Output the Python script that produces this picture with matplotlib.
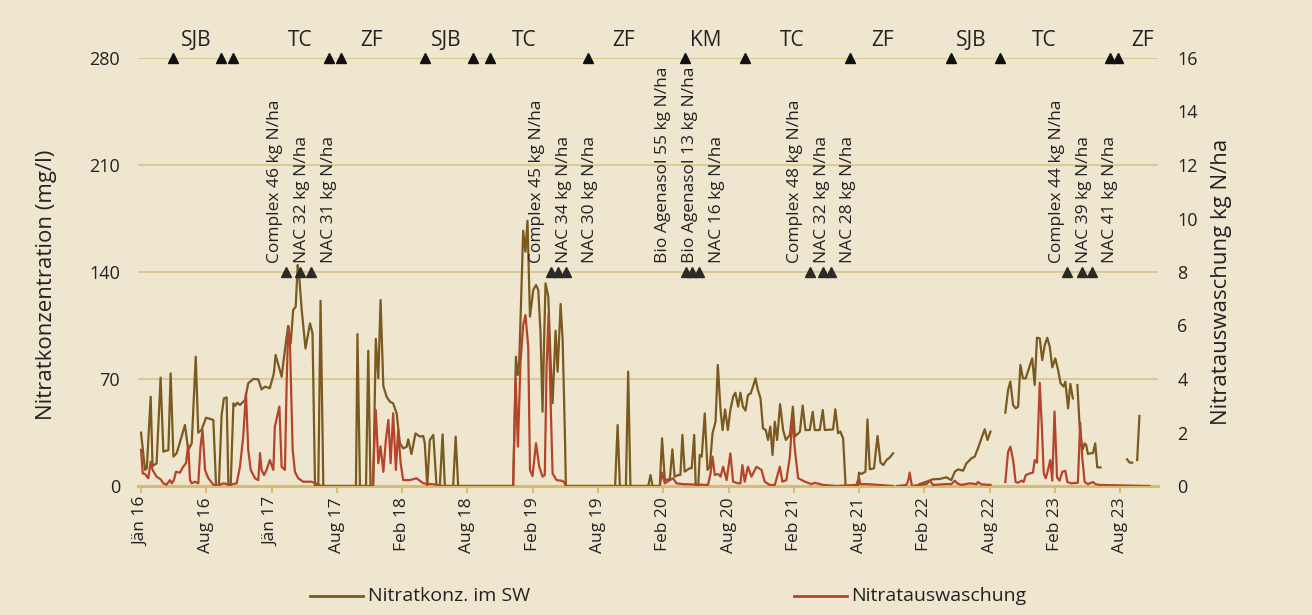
import numpy as np
import matplotlib
matplotlib.use("Agg")
import matplotlib.pyplot as plt
from matplotlib.lines import Line2D

plt.rcParams['font.family'] = ['Open Sans', 'DejaVu Sans']

nan = np.nan

# x axis: weeks since start (Jan 2016); tick every 26 weeks
tick_labels = ['Jän 16', 'Aug 16', 'Jän 17', 'Aug 17', 'Feb 18', 'Aug 18', 'Feb 19', 'Aug 19',
               'Feb 20', 'Aug 20', 'Feb 21', 'Aug 21', 'Feb 22', 'Aug 22', 'Feb 23', 'Aug 23']

# Nitratkonz. im SW (mg/l)
conc_weeks = [0.0, 1.6, 2.3, 3.85, 4.6, 6.2, 7.8, 8.9, 10.9, 11.8, 12.9, 14.2, 17.5, 18.8, 20.2, 21.8,
              22.8, 24.1, 25.9, 28.8, 29.9, 31.0, 32.1, 33.0, 34.1, 34.8, 35.7, 36.8, 37.5, 38.3, 39.4,
              41.4, 42.7, 44.7, 46.7, 48.0, 49.4, 51.3, 52.9, 53.6, 56.0, 57.3, 58.6, 59.6, 60.6, 61.6,
              62.4, 63.0, 64.0, 65.5, 67.3, 68.3, 69.3, 70.6, 71.5, 72.6, 85.6, 86.2, 87.2, 89.6, 90.5,
              91.4, 92.5, 93.5, 94.5, 95.4, 96.5, 97.8, 99.1, 100.4, 101.8, 103.1, 104.4, 105.8, 106.4,
              107.7, 109.3, 111.1, 112.4, 113.0, 114.0, 115.0, 116.4, 117.7, 119.0, 120.1, 121.0, 124.3,
              125.3, 126.3, 148.2, 149.3, 150.0, 150.6, 152.2, 153.1, 153.9, 154.9, 156.2, 157.3, 158.2,
              159.1, 159.9, 160.6, 161.1, 162.2, 163.1, 163.9, 165.1, 165.9, 167.1, 167.9, 168.8, 169.2,
              188.8, 189.8, 190.7, 193.1, 194.0, 194.9, 202.0, 202.9, 203.7, 206.6, 207.5, 208.6, 210.6,
              211.6, 212.5, 213.9, 214.8, 215.6, 216.5, 218.5, 219.3, 220.3, 220.9, 221.9, 222.5, 223.3,
              224.5, 225.6, 226.5, 227.6, 228.8, 229.7, 230.8, 231.6, 232.6, 233.7, 234.7, 235.8, 236.7,
              237.8, 238.7, 239.7, 240.7, 241.7, 242.8, 243.7, 244.7, 245.6, 246.7, 247.7, 248.8, 249.7,
              250.6, 251.5, 252.4, 253.3, 254.5, 255.7, 256.8, 258.4, 259.6, 260.4, 262.4, 263.5, 264.6,
              266.3, 267.5, 268.3, 270.3, 271.5, 272.3, 275.6, 276.5, 277.6, 278.5, 279.6, 280.6, 285.6,
              285.9, 286.9, 288.5, 289.3, 290.2, 291.9, 293.3, 294.5, 295.6, 296.9, 298.2, 299.5, 300.0,
              308.8, 310.1, 312.8, 315.4, 318.1, 320.7, 322.7, 324.1, 325.4, 327.4, 328.7, 330.7, 332.0,
              333.3, 334.7, 336.0, 337.1, 338.3, 340.0,
              344.2, 345.3, 346.2, 347.3, 348.3, 349.3, 350.2, 351.2, 352.3, 353.6, 354.9, 355.9, 356.8,
              357.9, 358.9, 359.9, 360.9, 361.9, 362.9, 364.1, 365.2, 366.2, 367.4, 368.1, 369.2, 370.1,
              371.1, 372.0, 372.9, 373.8, 374.9, 375.8, 376.4, 377.1, 378.0, 379.1, 380.0, 380.8, 382.1,
              385.0, 392.7, 393.7, 394.7, 395.5, 396.7, 397.6]
conc_vals = [34.9, 10.5, 11.6, 58.4, 13.1, 14.8, 70.9, 22.5, 23.5, 73.7, 19.2, 21.4, 39.9, 23.5, 27.9, 84.6,
             34.9, 36.6, 44.7, 43.2, 0, 0, 46.4, 57.3, 58.0, 0, 0, 54.1, 52.4, 54.5, 53.0,
             56.2, 67.2, 70.0, 69.8, 63.2, 65.0, 64.0, 73.7, 85.7, 71.5, 89.0, 104.7, 93.3, 115.1, 117.3,
             144.6, 137.0, 115.1, 90.0, 106.4, 99.9, 0, 0, 121.2, 0, 0, 99.4, 0, 0, 88.5,
             0, 0, 96.2, 70.4, 121.7, 65.4, 58.4, 55.2, 54.1, 47.5, 27.9, 24.6, 25.7, 30.5,
             20.9, 34.4, 32.3, 32.7, 27.9, 0, 30.1, 33.4, 0, 0, 33.8, 0, 0,
             32.3, 0, 0, 84.6, 72.6, 80.2, 167.0, 153.3, 173.6, 110.8, 128.2, 131.5, 128.2,
             99.9, 48.6, 99.9, 132.6, 123.9, 82.4, 54.1, 101.6, 74.8, 119.1, 95.5, 34.5, 0,
             0, 39.9, 0, 0, 74.8, 0, 0, 7.2, 0, 0, 31.2, 3.9, 4.4,
             24.0, 6.1, 7.2, 7.2, 33.4, 9.4, 11.6, 11.6, 33.4, 0, 0, 20.3, 19.2,
             47.5, 10.5, 12.6, 34.5, 42.1, 79.2, 49.7, 36.6, 50.1, 36.6, 49.7, 58.4, 61.0,
             51.9, 61.0, 51.9, 49.3, 59.5, 60.6, 65.0, 70.4, 63.2, 57.4, 37.7, 36.6, 30.1,
             38.8, 20.3, 42.1, 30.1, 53.6, 36.6, 30.1, 33.4, 51.9, 32.3, 35.5, 52.6, 36.6,
             36.6, 48.6, 36.6, 36.6, 49.7, 36.6, 37.0, 50.2, 34.5, 35.6, 31.2, 0, 0,
             8.7, 7.9, 9.4, 43.6, 10.9, 11.6, 32.7, 15.3, 13.7, 17.0, 18.7, 21.4, nan,
             0, 1.3, 2.8, 4.4, 4.6, 5.7, 3.9, 9.4, 10.9, 10.0, 14.8, 18.1, 19.2,
             24.6, 31.2, 37.1, 30.1, 35.6, nan,
             48.0, 62.8, 68.3, 53.0, 50.8, 51.9, 79.2, 70.4, 70.4, 77.0, 83.5, 66.1, 97.0,
             96.6, 82.4, 92.2, 97.0, 91.1, 77.6, 83.5, 75.9, 67.2, 65.0, 68.3, 50.8, 66.8,
             57.3, nan, 66.1, 38.8, 23.6, 27.9, 26.8, 20.9, 21.4, 21.4, 27.9, 12.2, 12.2,
             nan, 17.4, 15.3, 15.3, nan, 17.0, 45.8]

# Nitratauswaschung (kg N/ha)
leach_weeks = [0.0, 0.7, 1.6, 2.9, 3.85, 4.6, 6.2, 7.8, 8.9, 10.2, 11.5, 12.2, 13.1, 13.9, 15.5, 16.8,
               17.9, 18.8, 19.5, 20.2, 21.5, 22.8, 23.7, 24.5, 25.5, 26.8, 28.8, 30.1, 32.8, 35.4, 38.1,
               39.4, 40.7, 41.8, 42.7, 43.7, 45.4, 46.7, 47.4, 48.0, 49.0, 50.0, 51.3, 52.7, 53.3, 55.1,
               56.0, 57.3, 58.0, 58.6, 59.3, 60.4, 61.3, 62.6, 64.6, 67.9, 70.6, 71.9, 92.2, 93.5, 94.5,
               95.4, 96.5, 97.5, 98.5, 99.4, 100.4, 101.5, 102.4, 103.4, 104.4, 107.1, 109.7, 112.4,
               117.7, 120.3, 148.2, 149.2, 150.1, 151.1, 152.2, 153.1, 154.2, 154.9, 155.9, 157.3, 158.6,
               159.9, 160.8, 161.5, 162.3, 163.1, 163.9, 165.5, 167.4, 168.4, 169.2, 206.6, 207.5, 208.6,
               210.6, 211.9, 213.2, 215.9, 225.8, 226.8, 227.6, 228.5, 229.9, 230.8, 231.8, 233.2, 234.7,
               235.8, 237.8, 238.7, 239.5, 240.4, 241.7, 243.1, 245.1, 247.1, 248.4, 250.4, 252.4, 254.4,
               255.4, 257.0, 258.4, 259.4, 260.4, 261.7, 264.4, 267.0, 268.3, 271.7, 277.0, 284.9, 285.9,
               286.5, 289.5, 299.5, 300.3, 301.1, 304.8, 305.5, 306.1, 307.0, 310.1, 312.8, 314.1, 315.4,
               320.1, 322.7, 324.1, 325.0, 326.7, 330.0, 332.7, 333.3, 334.7, 338.3, 340.0, 344.2, 345.3,
               346.2, 347.3, 348.3, 349.3, 350.6, 351.5, 352.3, 353.9, 355.2, 355.9, 356.8, 357.9, 358.8,
               359.5, 360.3, 361.2, 362.1, 362.9, 363.8, 364.8, 365.8, 366.9, 368.1, 368.9, 370.5, 373.1,
               374.0, 374.8, 375.8, 377.1, 379.1, 380.1, 381.7, 401.6]
leach_vals = [1.35, 0.47, 0.45, 0.29, 0.91, 0.6, 0.35, 0.25, 0.1, 0.05, 0.22, 0.1, 0.22, 0.53, 0.5, 0.72,
              0.85, 1.53, 0.22, 0.1, 0.16, 0.1, 1.48, 2.09, 0.6, 0.29, 0.05, 0, 0.1, 0.05, 0.1,
              0.72, 1.84, 3.46, 1.35, 0.6, 0.29, 0.22, 1.23, 0.6, 0.41, 0.6, 0.97, 0.6, 2.22, 2.97,
              0.72, 0.6, 3.84, 5.98, 5.33, 1.35, 0.53, 0.29, 0.16, 0.16, 0.05, 0, 0, 2.84, 0.85,
              1.48, 0.53, 1.72, 2.47, 0.85, 2.72, 0.6, 2.09, 0.85, 0.22, 0.22, 0.29, 0.1,
              0.05, 0, 0, 4.02, 1.47, 4.59, 6.02, 6.39, 5.21, 0.6, 0.37, 1.6, 0.72,
              0.35, 0.41, 4.46, 6.43, 3.21, 0.47, 0.22, 0.2, 0.16, 0, 0, 0.5, 0.1,
              0.22, 0.29, 0.1, 0.07, 0.04, 0.47, 1.1, 0.41, 0.45, 0.35, 0.72, 0.22, 1.22,
              0.16, 0.1, 0.1, 0.78, 0.16, 0.72, 0.35, 0.72, 0.6, 0.16, 0.04, 0.04, 0.72,
              0.16, 0.22, 1.1, 2.59, 1.35, 0.29, 0.16, 0.07, 0.12, 0.04, 0, 0.04, 0.32,
              0.07, 0.07, 0, nan, 0, 0.04, 0.2, 0.5, 0, 0.04, 0.07, 0.2, 0.04,
              0.07, 0.07, 0.2, 0.1, 0.04, 0.1, 0.07, 0.15, 0.06, 0.04, nan, 0.15, 1.28,
              1.47, 0.97, 0.15, 0.12, 0.2, 0.15, 0.4, 0.47, 0.5, 0.97, 0.87, 3.86, 2.09,
              0.47, 0.29, 0.6, 0.97, 0.2, 2.78, 0.32, 0.2, 0.53, 0.57, 0.15, 0.1, 0.12,
              2.37, 1.1, 0.15, 0.07, 0.15, 0.07, 0.04, 0]

# crop periods (top row)
crop_labels = ['SJB', 'TC', 'ZF', 'SJB', 'TC', 'ZF', 'KM', 'TC', 'ZF', 'SJB', 'TC', 'ZF']
crop_label_weeks = [21.8, 63.3, 92.0, 121.7, 152.6, 192.2, 224.9, 259.2, 295.4, 330.7, 359.7, 398.7]
crop_event_weeks = [12.9, 31.7, 36.7, 74.8, 79.5, 113.1, 132.3, 138.9, 177.9, 216.7, 240.5,
                    282.4, 322.4, 342.2, 385.7, 389.1]

# fertilisation events
fert_weeks = [57.6, 63.5, 67.5, 163.4, 166.2, 169.2, 217.2, 219.6, 222.1, 266.6, 271.4, 274.6,
              368.9, 374.8, 378.8]
fert_labels = ['Complex 46 kg N/ha', 'NAC 32 kg N/ha', 'NAC 31 kg N/ha',
               'Complex 45 kg N/ha', 'NAC 34 kg N/ha', 'NAC 30 kg N/ha',
               'Bio Agenasol 55 kg N/ha', 'Bio Agenasol 13 kg N/ha', 'NAC 16 kg N/ha',
               'Complex 48 kg N/ha', 'NAC 32 kg N/ha', 'NAC 28 kg N/ha',
               'Complex 44 kg N/ha', 'NAC 39 kg N/ha', 'NAC 41 kg N/ha']
fert_label_weeks = [53.3, 64.2, 74.8, 157.5, 168.4, 179.0, 207.9, 218.6, 229.2,
                    260.4, 271.0, 281.6, 364.7, 375.5, 386.0]

bg = '#EFE6D0'
grid_c = '#DCC88C'
axis_c = '#D6BD74'
conc_c = '#7A5A1E'
leach_c = '#B6442A'
text_c = '#222222'

W, H = 1312, 615
fig = plt.figure(figsize=(W / 100, H / 100), dpi=100, facecolor=bg)
L, R, B, T = 138, 1158, 486, 58
ax = fig.add_axes([L / W, 1 - B / H, (R - L) / W, (B - T) / H])
ax.set_facecolor(bg)
ax.set_xlim(-1.2, 405)
ax.set_ylim(0, 280)
for s in ['top', 'left', 'right']:
    ax.spines[s].set_visible(False)
ax.spines['bottom'].set_color(axis_c)
ax.spines['bottom'].set_linewidth(2.2)
ax.set_yticks([0, 70, 140, 210, 280])
ax.yaxis.grid(True, color=grid_c, linewidth=1.3)
ax.set_axisbelow(True)
ax.tick_params(axis='y', length=0, pad=13, labelsize=13, labelcolor=text_c)
ax.set_xticks([26 * i for i in range(len(tick_labels))])
ax.set_xticklabels(tick_labels, rotation=90, fontsize=12.5, color=text_c)
ax.tick_params(axis='x', direction='out', length=5, width=1.5, color=axis_c, pad=3)

ax.plot(conc_weeks, conc_vals, color=conc_c, linewidth=1.6, zorder=3)

ax2 = ax.twinx()
ax2.set_ylim(0, 16)
ax2.set_yticks(range(0, 17, 2))
for s in ['top', 'left', 'right', 'bottom']:
    ax2.spines[s].set_visible(False)
ax2.tick_params(axis='y', length=0, pad=14, labelsize=13, labelcolor=text_c)
ax2.plot(leach_weeks, leach_vals, color=leach_c, linewidth=1.6, zorder=3)

# crop row
ax.plot(crop_event_weeks, [280] * len(crop_event_weeks), linestyle='none', marker='^',
        markersize=7.5, color='#111111', clip_on=False, zorder=5)
for w, lab in zip(crop_label_weeks, crop_labels):
    ax.text(w, 291.5, lab, ha='center', va='center', fontsize=15, color=text_c)

# fertilisation row
ax.plot(fert_weeks, [140] * len(fert_weeks), linestyle='none', marker='^',
        markersize=7.5, color='#2a2a2a', clip_on=False, zorder=5)
for w, lab in zip(fert_label_weeks, fert_labels):
    ax.text(w, 146, lab, ha='center', va='bottom', rotation=90, fontsize=12.5, color=text_c)

fig.text(46.7 / W, 1 - 285 / H, 'Nitratkonzentration (mg/l)', rotation=90, ha='center', va='center',
         fontsize=16, color=text_c)
fig.text(1221.7 / W, 1 - 282 / H, 'Nitratauswaschung kg N/ha', rotation=90, ha='center', va='center',
         fontsize=16, color=text_c)

# legend
ly = 1 - 596 / H
fig.add_artist(Line2D([310 / W, 363 / W], [ly, ly], color=conc_c, linewidth=2))
fig.text(368 / W, ly, 'Nitratkonz. im SW', ha='left', va='center', fontsize=14,
         family=['Liberation Sans Narrow', 'Open Sans'], color=text_c)
fig.add_artist(Line2D([794 / W, 847 / W], [ly, ly], color=leach_c, linewidth=2))
fig.text(851.5 / W, ly, 'Nitratauswaschung', ha='left', va='center', fontsize=14,
         family=['Liberation Sans Narrow', 'Open Sans'], color=text_c)

fig.savefig('out.png', dpi=100, facecolor=bg)
